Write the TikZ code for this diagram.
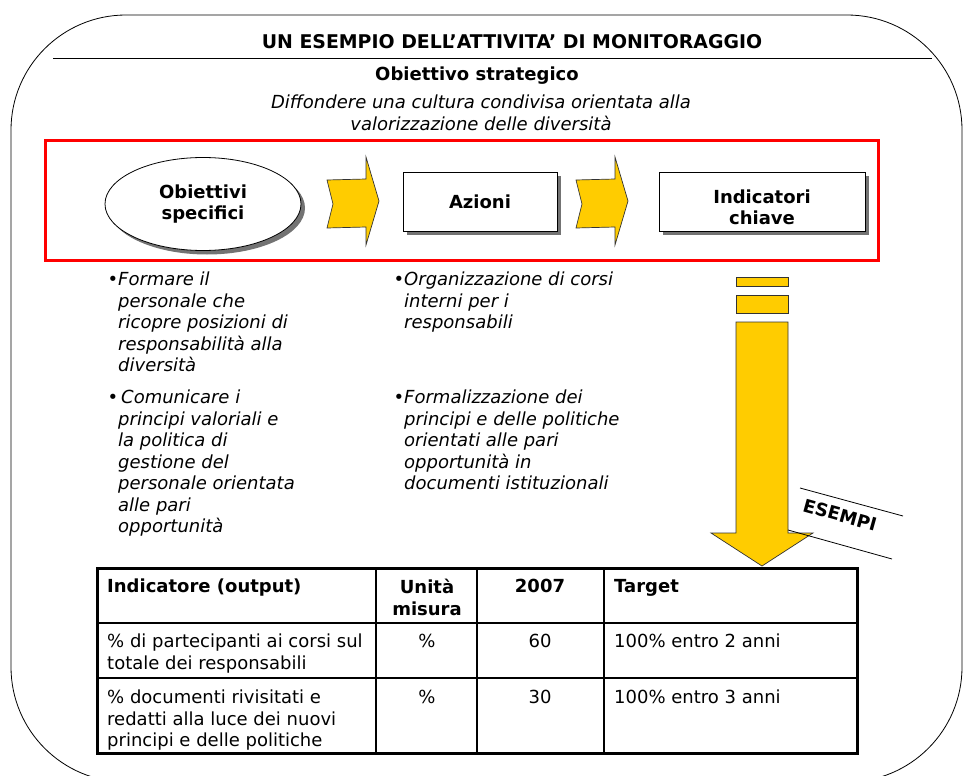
\documentclass[tikz,border=0pt]{standalone}
\usepackage{fontspec}
\setmainfont{DejaVu Sans}
\usetikzlibrary{shapes.geometric,shadows}
\definecolor{giallo}{RGB}{255,204,0}
\definecolor{rosso}{RGB}{255,0,0}
\tikzset{
  testo/.style={inner sep=0pt, font=\fontsize{18}{21.5}\selectfont},
  grassetto/.style={testo, font=\fontsize{18}{21.5}\selectfont\bfseries},
  corsivo/.style={testo, font=\fontsize{18}{21.5}\selectfont\itshape},
  ombra/.style={drop shadow={shadow xshift=4pt, shadow yshift=-4pt, fill=black!55, opacity=1}},
  scatola/.style={draw, fill=white, line width=0.8pt, ombra, grassetto, align=center},
  freccia/.style={draw=black!80, fill=giallo, line width=0.7pt}
}
\begin{document}
\begin{tikzpicture}[x=1pt,y=-1pt]
\useasboundingbox (0,0) rectangle (964,776);
\clip (0,0) rectangle (964,776);
% cornice esterna
\draw[line width=0.8pt, rounded corners=115pt] (11,15) rectangle (962,782);
\node[grassetto, font=\fontsize{18.9}{21.5}\selectfont\bfseries] (titolo) at (512,42)
  {UN ESEMPIO DELL’ATTIVITA’ DI MONITORAGGIO};
\draw[line width=0.8pt] (53,58) -- (932,58);
\node[grassetto] (strategico) at (477,76) {Obiettivo strategico};
\node[corsivo, align=center, anchor=north] (diffondere) at (481,95)
  {Diffondere una cultura condivisa orientata alla\\valorizzazione delle diversità};
% riquadro rosso
\draw[rosso, line width=3pt] (45,140) rectangle (878,260);
\node[scatola, ellipse, minimum width=196pt, minimum height=93pt,
  drop shadow={shadow xshift=3pt, shadow yshift=-3pt, fill=black!55, opacity=1}]
  (specifici) at (203,204) {Obiettivi\\specifici};
\node[scatola, minimum width=154pt, minimum height=59pt] (azioni) at (480,201.5) {Azioni};
\node[scatola, minimum width=206pt, minimum height=59pt,
  label={[grassetto, align=center, yshift=-6pt]center:Indicatori\\chiave}] (indicatori) at (762,201.5) {};
\foreach \x in {327,576}
  \draw[freccia, shift={(\x,0)}] (0,180) -- (39,179) -- (39,157) -- (52,201) -- (39,245)
    -- (39,227) -- (0,228) -- (6,204) -- cycle;
% elenchi puntati
\node[corsivo, align=left, anchor=north west] (formare) at (118,272)
  {\llap{\textbullet}Formare il\\personale che\\ricopre posizioni di\\responsabilità alla\\diversità};
\node[corsivo, align=left, anchor=north west] (comunicare) at (118,390)
  {\llap{\textbullet}\hspace{3pt}Comunicare i\\principi valoriali e\\la politica di\\gestione del\\personale orientata\\alle pari\\opportunità};
\node[corsivo, align=left, anchor=north west] (organizzazione) at (404,272)
  {\llap{\textbullet}Organizzazione di corsi\\interni per i\\responsabili};
\node[corsivo, align=left, anchor=north west] (formalizzazione) at (404,390)
  {\llap{\textbullet}Formalizzazione dei\\principi e delle politiche\\orientati alle pari\\opportunità in\\documenti istituzionali};
% freccia verso il basso
\draw[freccia] (736,277) rectangle (788,286);
\draw[freccia] (736,295) rectangle (788,313);
\draw[freccia] (736,322) -- (788,322) -- (788,533) -- (813,533) -- (762,566) -- (711,533)
  -- (736,533) -- cycle;
\draw[line width=0.8pt] (800,488) -- (903,516);
\draw[line width=0.8pt] (788,530) -- (892,559);
\node[grassetto, rotate=-15.5] (esempi) at (840,515) {ESEMPI};
% tabella
\foreach \x in {376,477,604} \draw[line width=1.5pt] (\x,568) -- (\x,753);
\foreach \y in {623,678} \draw[line width=1.5pt] (97,\y) -- (857,\y);
\draw[line width=3pt] (97,568) rectangle (857,753);
\node[grassetto, anchor=north west] (intest1) at (107,579) {Indicatore (output)};
\node[grassetto, anchor=north, align=center] (intest2) at (427,579) {Unità\\misura};
\node[grassetto, anchor=north] (intest3) at (540,579) {2007};
\node[grassetto, anchor=north west] (intest4) at (614,579) {Target};
\node[testo, anchor=north west, align=left] (riga1) at (107,634)
  {\% di partecipanti ai corsi sul\\totale dei responsabili};
\node[testo, anchor=north] (unita1) at (427,634) {\%};
\node[testo, anchor=north] (valore1) at (540,634) {60};
\node[testo, anchor=north west] (target1) at (614,634) {100\% entro 2 anni};
\node[testo, anchor=north west, align=left] (riga2) at (107,690)
  {\% documenti rivisitati e\\redatti alla luce dei nuovi\\principi e delle politiche};
\node[testo, anchor=north] (unita2) at (427,690) {\%};
\node[testo, anchor=north] (valore2) at (540,690) {30};
\node[testo, anchor=north west] (target2) at (614,690) {100\% entro 3 anni};
\end{tikzpicture}
\end{document}
